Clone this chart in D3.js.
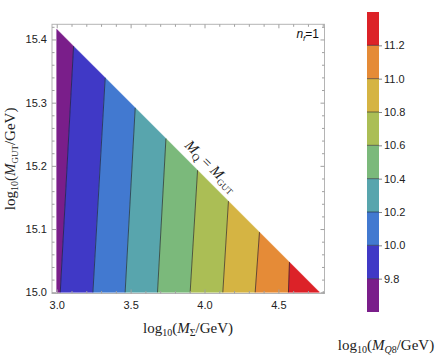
<!DOCTYPE html>
<html lang="en">
<head>
<meta charset="UTF-8">
<title>M_Q8 contours</title>
<script src="https://d3js.org/d3.v7.min.js"></script>
<style>
  body { margin: 0; background: #fff; }
  .tick text { font-family: "Liberation Sans", Arial, sans-serif; font-size: 11px; fill: #222; }
  .serif { font-family: "Liberation Serif", "Times New Roman", serif; fill: #222; }
</style>
</head>
<body>
<svg id="chart" width="443" height="362"></svg>
<script>
// contour levels of log10(M_Q8/GeV) and the fill of each band between them
const levels = [9.6, 9.8, 10.0, 10.2, 10.4, 10.6, 10.8, 11.0, 11.2, 11.4];
const bandColors = ['#7a1e8a', '#4039c6', '#4279d0', '#58a5ad', '#7bb97b',
                    '#abbe55', '#d5b443', '#e58b37', '#dc2228'];

// where each contour line (9.8 ... 11.2) crosses log10(M_GUT)=15 and the M_Q = M_GUT edge
const contourLevels = [9.8, 10.0, 10.2, 10.4, 10.6, 10.8, 11.0, 11.2];
const xAtBottom   = [3.024, 3.245, 3.463, 3.682, 3.903, 4.124, 4.343, 4.568];
const xAtBoundary = [3.114, 3.328, 3.531, 3.739, 3.953, 4.162, 4.372, 4.575];

// the M_Q = M_GUT edge of the allowed region
const boundaryX = [3.0, 4.778];
const boundaryY = [15.416, 15.0];

const xTicks = [3.0, 3.5, 4.0, 4.5];
const yTicks = [15.0, 15.1, 15.2, 15.3, 15.4];
const cbTicks = [9.8, 10.0, 10.2, 10.4, 10.6, 10.8, 11.0, 11.2];

const svg = d3.select('#chart');
const mLeft = 52, mRight = 324.5, mTop = 24.3, mBottom = 293.5;

const x = d3.scaleLinear().domain([2.968, 4.812]).range([mLeft, mRight]);
const y = d3.scaleLinear().domain([14.998, 15.424]).range([mBottom, mTop]);
const edgeY = d3.scaleLinear().domain(boundaryX).range(boundaryY);

// band edges: left side of region, contour lines, right tip
const edges = [{ xb: boundaryX[0], xt: boundaryX[0] }]
  .concat(xAtBottom.map((xb, i) => ({ xb, xt: xAtBoundary[i] })))
  .concat([{ xb: boundaryX[1], xt: boundaryX[1] }]);

const bands = d3.range(bandColors.length).map(i => ({
  color: bandColors[i],
  pts: [
    [x(edges[i].xb), y(15.0)],
    [x(edges[i + 1].xb), y(15.0)],
    [x(edges[i + 1].xt), y(edgeY(edges[i + 1].xt))],
    [x(edges[i].xt), y(edgeY(edges[i].xt))]
  ]
}));

const plot = svg.append('g');
plot.selectAll('polygon')
  .data(bands)
  .enter().append('polygon')
    .attr('points', d => d.pts.map(p => p.join(',')).join(' '))
    .attr('fill', d => d.color)
    .attr('stroke', d => d.color)
    .attr('stroke-width', 0.6);

plot.selectAll('line.contour')
  .data(contourLevels.map((lv, i) => ({ lv, xb: xAtBottom[i], xt: xAtBoundary[i] })))
  .enter().append('line')
    .attr('class', 'contour')
    .attr('x1', d => x(d.xb)).attr('y1', y(15.0))
    .attr('x2', d => x(d.xt)).attr('y2', d => y(edgeY(d.xt)))
    .attr('stroke', '#1a1a2a')
    .attr('stroke-opacity', 0.8)
    .attr('stroke-width', 0.8);

// frame
svg.append('rect')
  .attr('x', mLeft).attr('y', mTop)
  .attr('width', mRight - mLeft).attr('height', mBottom - mTop)
  .attr('fill', 'none').attr('stroke', '#b4b4b4').attr('stroke-width', 1);

const xMinor = d3.range(3.0, 4.81, 0.1).filter(v => !xTicks.some(t => Math.abs(t - v) < 1e-6));
const yMinor = d3.range(15.0, 15.421, 0.02).filter(v => !yTicks.some(t => Math.abs(t - v) < 1e-6));

function styleAxis(g) {
  g.select('.domain').remove();
  g.selectAll('.tick line').attr('stroke', '#a0a0a0');
}

svg.append('g').attr('transform', `translate(0,${mBottom})`)
  .call(d3.axisBottom(x).tickValues(xTicks).tickSize(-4).tickPadding(8).tickFormat(d3.format('.1f')))
  .call(styleAxis);
svg.append('g').attr('transform', `translate(0,${mBottom})`)
  .call(d3.axisBottom(x).tickValues(xMinor).tickSize(-2.5).tickFormat(''))
  .call(styleAxis);
svg.append('g').attr('transform', `translate(0,${mTop})`)
  .call(d3.axisTop(x).tickValues(xTicks).tickSize(-4).tickFormat(''))
  .call(styleAxis);
svg.append('g').attr('transform', `translate(0,${mTop})`)
  .call(d3.axisTop(x).tickValues(xMinor).tickSize(-2.5).tickFormat(''))
  .call(styleAxis);

svg.append('g').attr('transform', `translate(${mLeft},0)`)
  .call(d3.axisLeft(y).tickValues(yTicks).tickSize(-4).tickPadding(5).tickFormat(d3.format('.1f')))
  .call(styleAxis);
svg.append('g').attr('transform', `translate(${mLeft},0)`)
  .call(d3.axisLeft(y).tickValues(yMinor).tickSize(-2.5).tickFormat(''))
  .call(styleAxis);
svg.append('g').attr('transform', `translate(${mRight},0)`)
  .call(d3.axisRight(y).tickValues(yTicks).tickSize(-4).tickFormat(''))
  .call(styleAxis);
svg.append('g').attr('transform', `translate(${mRight},0)`)
  .call(d3.axisRight(y).tickValues(yMinor).tickSize(-2.5).tickFormat(''))
  .call(styleAxis);

// axis titles
const xt = svg.append('text').attr('class', 'serif')
  .attr('x', 188).attr('y', 333).attr('text-anchor', 'middle').style('font-size', '15px');
xt.append('tspan').text('log');
xt.append('tspan').attr('dy', 3).style('font-size', '10px').text('10');
xt.append('tspan').attr('dy', -3).text('(');
xt.append('tspan').style('font-style', 'italic').text('M');
xt.append('tspan').attr('dy', 3).style('font-size', '10px').text('Σ');
xt.append('tspan').attr('dy', -3).text('/GeV)');

const yt = svg.append('text').attr('class', 'serif')
  .attr('transform', `translate(15,${(mTop + mBottom) / 2}) rotate(-90)`)
  .attr('text-anchor', 'middle').style('font-size', '15px');
yt.append('tspan').text('log');
yt.append('tspan').attr('dy', 3).style('font-size', '10px').text('10');
yt.append('tspan').attr('dy', -3).text('(');
yt.append('tspan').style('font-style', 'italic').text('M');
yt.append('tspan').attr('dy', 3).style('font-size', '9px').text('GUT');
yt.append('tspan').attr('dy', -3).text('/GeV)');

// M_Q = M_GUT along the edge
const ang = Math.atan2(y(boundaryY[1]) - y(boundaryY[0]), x(boundaryX[1]) - x(boundaryX[0])) * 180 / Math.PI;
const ann = svg.append('text').attr('class', 'serif')
  .attr('transform', `translate(${x(3.985) + 5.3},${y(edgeY(3.985)) - 5.3}) rotate(${ang})`)
  .attr('text-anchor', 'middle').style('font-size', '15px');
ann.append('tspan').style('font-style', 'italic').text('M');
ann.append('tspan').attr('dy', 3).style('font-size', '10px').text('Q');
ann.append('tspan').attr('dy', -3).text(' = ');
ann.append('tspan').style('font-style', 'italic').text('M');
ann.append('tspan').attr('dy', 3).style('font-size', '9px').text('GUT');

// n_f = 1 label
const nf = svg.append('text')
  .attr('x', 319).attr('y', 38).attr('text-anchor', 'end')
  .style('font-family', '"Liberation Sans", Arial, sans-serif').style('font-size', '12px').style('fill', '#111');
nf.append('tspan').style('font-style', 'italic').text('n');
nf.append('tspan').attr('dy', 3).style('font-style', 'italic').style('font-size', '8px').text('f');
nf.append('tspan').attr('dy', -3).text('=1');

// colour bar
const cbX = 367, cbW = 12;
const cb = d3.scaleLinear().domain([levels[0], levels[levels.length - 1]]).range([312, 12]);
const cbg = svg.append('g');
cbg.selectAll('rect')
  .data(bandColors.map((c, i) => ({ c, lo: levels[i], hi: levels[i + 1] })))
  .enter().append('rect')
    .attr('x', cbX).attr('width', cbW)
    .attr('y', d => cb(d.hi)).attr('height', d => cb(d.lo) - cb(d.hi))
    .attr('fill', d => d.c);
cbg.selectAll('line.lv')
  .data(contourLevels)
  .enter().append('line')
    .attr('class', 'lv')
    .attr('x1', cbX).attr('x2', cbX + cbW)
    .attr('y1', d => cb(d)).attr('y2', d => cb(d))
    .attr('stroke', '#1a1a2a').attr('stroke-opacity', 0.7).attr('stroke-width', 0.8);

svg.append('g').attr('transform', `translate(${cbX + cbW},0)`)
  .call(d3.axisRight(cb).tickValues(cbTicks).tickSize(3).tickPadding(2).tickFormat(d3.format('.1f')))
  .call(g => {
    g.select('.domain').remove();
    g.selectAll('.tick line').attr('stroke', '#888');
  });

const ct = svg.append('text').attr('class', 'serif')
  .attr('x', 386).attr('y', 350).attr('text-anchor', 'middle').style('font-size', '15px');
ct.append('tspan').text('log');
ct.append('tspan').attr('dy', 3).style('font-size', '10px').text('10');
ct.append('tspan').attr('dy', -3).text('(');
ct.append('tspan').style('font-style', 'italic').text('M');
ct.append('tspan').attr('dy', 3).style('font-size', '10px').style('font-style', 'italic').text('Q');
ct.append('tspan').style('font-size', '10px').text('8');
ct.append('tspan').attr('dy', -3).text('/GeV)');
</script>
</body>
</html>
